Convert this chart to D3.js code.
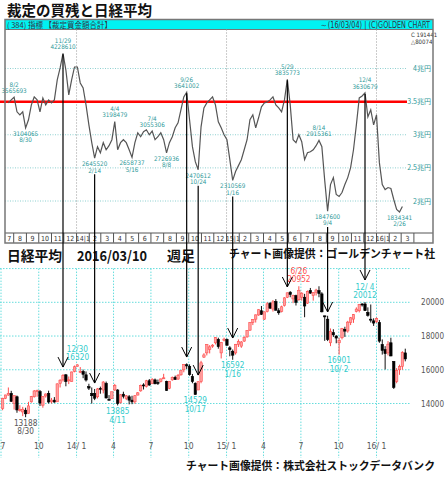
<!DOCTYPE html>
<html><head><meta charset="utf-8">
<script src="https://cdn.jsdelivr.net/npm/d3@7"></script>
<style>body{margin:0;background:#fff}svg{display:block}</style>
</head><body>
<svg id="c" width="448" height="480"></svg>
<script>
// ---------- DATA ----------
// 裁定買残 (兆円), weekly from 2013-07-19 to 2016-03-04
const arbStart = "2013-07-19";
const arbValues = [
3.481,3.526,3.566,3.346,3.301,3.346,3.104,3.226,3.451,3.571,
3.526,3.346,3.556,3.451,3.526,3.481,3.526,3.827,4.008,4.229,
3.977,3.602,3.827,4.023,4.023,3.782,3.707,3.451,3.150,2.880,
2.646,2.820,2.729,2.880,2.774,2.835,2.925,3.198,2.774,2.880,
2.925,2.880,2.774,2.659,2.880,3.030,2.970,3.045,3.075,3.000,
3.055,2.925,2.970,3.030,2.925,2.727,2.880,2.970,3.105,3.180,
3.376,3.571,3.641,3.226,2.820,2.594,2.471,3.120,3.406,3.481,
3.526,3.571,3.451,3.195,3.105,3.000,2.925,2.624,2.311,2.444,
2.534,2.624,2.774,2.925,3.226,3.301,3.105,3.256,3.421,3.481,
3.496,3.526,3.571,3.451,3.406,3.346,3.526,3.836,3.451,2.925,
2.880,3.000,2.895,2.624,2.729,2.744,2.774,2.835,2.915,2.820,
2.308,1.848,2.248,2.353,2.098,2.068,2.128,2.248,2.353,2.504,
2.774,3.150,3.556,3.586,3.631,3.271,3.376,3.150,3.301,2.579,
2.248,2.173,2.203,2.188,2.023,1.872,1.834,1.917];
const topTicks = [4, 3.5, 3, 2.5, 2];
const topTickLabels = ["4兆円","3.5兆円","3兆円","2.5兆円","2兆円"];
const topPeaks = [
 {date:"2013-08-02", lines:["8/2","3565693"]},
 {date:"2013-11-29", lines:["11/29","4228610"]},
 {date:"2014-04-04", lines:["4/4","3198479"]},
 {date:"2014-07-04", lines:["7/4","3055306"]},
 {date:"2014-09-26", lines:["9/26","3641002"]},
 {date:"2015-05-29", lines:["5/29","3835773"]},
 {date:"2015-08-14", lines:["8/14","2915361"]},
 {date:"2015-12-04", lines:["12/4","3630679"]}];
const topTroughs = [
 {date:"2013-08-30", lines:["3104065","8/30"]},
 {date:"2014-02-14", lines:["2645520","2/14"]},
 {date:"2014-05-16", lines:["2658737","5/16"]},
 {date:"2014-08-08", lines:["2726936","8/8"]},
 {date:"2014-10-24", lines:["2470612","10/24"]},
 {date:"2015-01-16", lines:["2310569","1/16"]},
 {date:"2015-09-04", lines:["1847600","9/4"]},
 {date:"2016-02-26", lines:["1834341","2/26"]}];

// 日経平均 weekly [open, high, low, close], from week ending 2013-07-05
const nikkeiStart = "2013-07-05";
const nikkeiOHLC = [
[13700,14340,13600,14309],[14300,14520,14260,14506],[14500,14950,14460,14589],[14600,14750,14100,14129],
[14000,14470,13640,14466],[14400,14470,13450,13615],[13650,13900,13520,13650],[13500,13800,13250,13660],
[13600,13750,13188,13389],[13400,14100,13400,13860],[14100,14450,14050,14404],[14400,14800,14350,14742],
[14700,14820,14400,14760],[14700,14800,13850,14024],[13900,14420,13750,14404],[14450,14600,14350,14561],
[14600,14760,14000,14088],[14100,14330,14000,14201],[14200,14380,14050,14086],[14100,15190,14100,15165],
[15200,15440,14950,15381],[15400,15740,15300,15661],[15700,15750,15020,15299],[15400,15600,15150,15403],
[15300,15890,15300,15870],[15900,16250,15850,16178],[16200,16320,16200,16291],[15900,16160,15800,15912],
[15900,16010,15500,15734],[15700,15900,15300,15391],[15000,15170,14800,14914],[14600,14950,13995,14462],
[14600,14860,14200,14313],[14400,14920,14300,14865],[14900,15000,14580,14841],[14800,15320,14600,15274],
[15200,15300,14300,14327],[14250,14500,14200,14224],[14300,14700,14270,14696],[14800,15160,14750,15063],
[14800,14850,13885,14000],[14050,14550,14000,14516],[14550,14700,14300,14429],[14300,14500,14200,14457],
[14400,14500,13950,14199],[14200,14460,13960,14097],[14100,14500,13980,14462],[14500,14680,14480,14632],
[14750,15120,14700,15077],[15100,15200,14830,15097],[15000,15400,14950,15349],[15350,15450,15050,15095],
[15200,15500,15150,15437],[15400,15480,15150,15164],[15250,15420,15100,15215],[15300,15480,15250,15457],
[15500,15760,15450,15523],[15300,15350,14750,14778],[14900,15330,14850,15318],[15400,15600,15350,15539],
[15550,15650,15400,15425],[15450,15750,15400,15668],[15700,15960,15650,15948],[16000,16330,15850,16321],
[16300,16380,16050,16229],[16200,16320,15650,15708],[15600,15750,15200,15300],[15200,15250,14529,14532],
[14800,15320,14800,15291],[15300,16530,15200,16413],[16750,16980,16700,16880],[17000,17520,16850,17490],
[17200,17460,16970,17357],[17400,17520,17300,17459],[17600,17940,17500,17920],[17800,17900,17250,17371],
[17000,17650,16670,17621],[17750,17900,17680,17818],[17800,17850,17450,17450],[17300,17400,16800,17197],
[17100,17200,16592,16864],[17000,17530,16900,17511],[17500,17800,17350,17674],[17400,17700,17300,17648],
[17700,17980,17650,17913],[17950,18350,17900,18332],[18350,18830,18300,18797],[18800,19000,18650,18971],
[19000,19280,18800,19254],[19250,19590,19200,19560],[19500,19780,19250,19286],[19000,19450,18950,19435],
[19450,20010,19400,19908],[19950,20000,19600,19653],[19600,20130,19450,20020],[20050,20190,19500,19531],
[19500,19650,19260,19379],[19450,19800,19400,19732],[19800,20300,19750,20264],[20300,20580,20250,20563],
[20600,20660,20300,20461],[20200,20450,19950,20407],[20400,20450,19810,19990],[20150,20952,20100,20706],
[20300,20600,20100,20539],[20300,20500,19115,19779],[19950,20700,19900,20650],[20700,20850,20500,20544],
[20400,20600,20100,20585],[20600,20800,20400,20724],[20700,20950,20300,20519],[20500,20600,19400,19436],
[19200,19200,17714,19136],[19000,19200,17700,17792],[17600,18450,17400,18264],[18200,18400,17950,18070],
[18000,18050,17570,17880],[17600,17900,16901,17725],[17900,18480,17800,18438],[18400,18550,17950,18291],
[18300,18900,18200,18825],[18800,19130,18650,19083],[19000,19300,18780,19265],[19450,19700,19400,19597],
[19500,19900,19400,19879],[19900,19950,19750,19883],[19900,20012,19500,19504],[19400,19700,19150,19230],
[19000,19870,18800,18986],[18900,19050,18600,18769],[18850,19100,18780,19033],[18800,18950,17600,17697],
[17500,17800,16900,17147],[17200,17400,16017,16958],[17000,17700,16850,17518],[17600,17900,16800,16819],
[16500,16500,14865,14952],[15300,16100,15200,15967],[16000,16300,15700,16188],[16200,17100,16000,17014],
[17000,17250,16500,16642]];
const nikkeiTicks = [14000, 16000, 18000, 20000];
const nikkeiGrid = [14000, 16000, 18000, 20000, 22000];
const quarterStarts = ["2013-07-01","2013-10-01","2014-01-01","2014-04-01","2014-07-01","2014-10-01",
 "2015-01-01","2015-04-01","2015-07-01","2015-10-01","2016-01-01"];
const quarterLabels = ["7","10","14/ 1","4","7","10","15/ 1","4","7","10","16/ 1"];
const nikkeiHighs = [
 {date:"2014-01-03", lines:["12/30","16320"], value:16320, color:"#33cccc"},
 {date:"2015-06-26", lines:["6/26","20952"], value:20952, color:"#ff5050"},
 {date:"2015-12-04", lines:["12/ 4","20012"], value:20012, color:"#33cccc"}];
const nikkeiLows = [
 {date:"2013-08-30", lines:["13188","8/30"], value:13188, color:"#555555"},
 {date:"2014-04-11", lines:["13885","4/11"], value:13885, color:"#33cccc"},
 {date:"2014-10-17", lines:["14529","10/17"], value:14529, color:"#33cccc"},
 {date:"2015-01-16", lines:["16592","1/16"], value:16592, color:"#33cccc"},
 {date:"2015-10-02", lines:["16901","10/ 2"], value:16901, color:"#33cccc"}];
// arrows linking top turning points to the Nikkei chart (end = Nikkei level of arrow tip)
const arrows = [
 {date:"2013-11-29", kind:"peak", end:16160},
 {date:"2014-02-14", kind:"trough", end:15211},
 {date:"2014-09-26", kind:"peak", end:16754},
 {date:"2014-10-24", kind:"trough", end:15685},
 {date:"2015-01-16", kind:"trough", end:17881},
 {date:"2015-05-29", kind:"peak", end:20908},
 {date:"2015-09-04", kind:"trough", end:19424},
 {date:"2015-12-04", kind:"peak", end:21323}];

// ---------- DRAW ----------
const svg = d3.select("#c");
const parse = d3.utcParse("%Y-%m-%d");
const fmt = d3.utcFormat("%Y-%m-%d");
const x = d3.scaleUtc().domain([parse("2013-11-29"), parse("2015-12-04")]).range([63, 365]);
const yT = d3.scaleLinear().domain([2, 4]).range([201, 68.5]);
const yN = d3.scaleLinear().domain([14000, 20000]).range([403.5, 302.3]);
const NARROW = "'Liberation Sans Narrow','DejaVu Sans Condensed','Arial Narrow',sans-serif";
const JP = "'Noto Sans CJK JP','Noto Sans CJK SC',sans-serif";

const arbData = arbValues.map((v,i)=>({date:d3.utcDay.offset(parse(arbStart), 7*i), v}));
const arbByDate = new Map(arbData.map(d=>[fmt(d.date), d.v]));

// title
svg.append("text").attr("x",7).attr("y",15.5).attr("font-family",JP).attr("font-weight","bold")
  .attr("font-size",15).attr("textLength",145).attr("lengthAdjust","spacingAndGlyphs").attr("fill","#111")
  .text("裁定の買残と日経平均");

// top frame
const L = 5, R = 433, T = 19.5, B = 243;
svg.append("rect").attr("x",L).attr("y",T).attr("width",R-L).attr("height",10).attr("fill","#00f2f2");
svg.append("line").attr("x1",L).attr("x2",R).attr("y1",T+10).attr("y2",T+10).attr("stroke","#777").attr("stroke-width",1);
svg.append("text").attr("x",7).attr("y",27.6).attr("font-family",JP).attr("font-size",8)
  .attr("fill","#334").attr("textLength",105).attr("lengthAdjust","spacingAndGlyphs")
  .text("( 384) 指標 【裁定買金額合計】");
svg.append("text").attr("x",320).attr("y",27.6).attr("font-family",NARROW).attr("font-size",8.5)
  .attr("fill","#334").attr("textLength",110).attr("lengthAdjust","spacingAndGlyphs")
  .text("～(16/03/04) | (C)GOLDEN CHART");
svg.append("text").attr("x",411).attr("y",36.5).attr("font-family",NARROW).attr("font-size",6).attr("fill","#333").text("C 191441");
svg.append("text").attr("x",411).attr("y",43.5).attr("font-family",NARROW).attr("font-size",6).attr("fill","#333").text("△80074");

const topG = svg.append("g");
// horizontal grid
topTicks.forEach((t,i)=>{
  if (t !== 3.5) topG.append("line").attr("x1",L).attr("x2",407).attr("y1",yT(t)).attr("y2",yT(t))
    .attr("stroke","#8fd0d0").attr("stroke-dasharray","1,1.5").attr("stroke-width",1);
  topG.append("text").attr("x",431).attr("y",yT(t)+2.5).attr("text-anchor","end")
    .attr("font-family",JP).attr("font-size",7).attr("fill","#2f9a9a").text(topTickLabels[i]);
});
// year dotted verticals
["2014-01-01","2015-01-01","2016-01-01"].forEach(d=>{
  topG.append("line").attr("x1",x(parse(d))).attr("x2",x(parse(d))).attr("y1",T+10).attr("y2",233)
    .attr("stroke","#999").attr("stroke-dasharray","1,2");
});
// red 3.5 line
topG.append("line").attr("x1",0).attr("x2",407).attr("y1",yT(3.5)).attr("y2",yT(3.5))
  .attr("stroke","#ff0000").attr("stroke-width",2.5);

// month row
const months = d3.utcMonth.range(parse("2013-07-01"), parse("2016-04-01"));
topG.append("line").attr("x1",L).attr("x2",R).attr("y1",233).attr("y2",233).attr("stroke","#555");
months.forEach(m=>{
  const x0 = Math.max(L, x(m)), x1 = x(d3.utcMonth.offset(m,1));
  if (x(m) > L) topG.append("line").attr("x1",x(m)).attr("x2",x(m)).attr("y1",233).attr("y2",B).attr("stroke","#555");
  const mm = m.getUTCMonth()+1;
  const lab = mm===1 ? (String(m.getUTCFullYear()).slice(2)+"|1") : String(mm);
  topG.append("text").attr("x",(x0+x1)/2).attr("y",240.8).attr("text-anchor","middle")
    .attr("font-family",NARROW).attr("font-size",7).attr("fill","#333").text(lab);
});
topG.append("line").attr("x1",x(parse("2016-04-01"))).attr("x2",x(parse("2016-04-01"))).attr("y1",233).attr("y2",B).attr("stroke","#555");
// frame
svg.append("rect").attr("x",L).attr("y",T).attr("width",R-L).attr("height",B-T)
  .attr("fill","none").attr("stroke","#777").attr("stroke-width",1.5);

// line
topG.append("path").datum(arbData).attr("fill","none").attr("stroke","#555").attr("stroke-width",1.2)
  .attr("d", d3.line().x(d=>x(d.date)).y(d=>yT(d.v)));

// top annotations
topPeaks.forEach(a=>{
  const px = x(parse(a.date)), py = yT(arbByDate.get(a.date));
  a.lines.forEach((t,k)=>topG.append("text").attr("x",px).attr("y",py-10.5+k*6.3).attr("text-anchor","middle")
    .attr("font-family",NARROW).attr("font-size",6.3).attr("fill","#2f9a9a").text(t));
});
topTroughs.forEach(a=>{
  const px = x(parse(a.date)), py = yT(arbByDate.get(a.date));
  a.lines.forEach((t,k)=>topG.append("text").attr("x",px).attr("y",py+8+k*6.3).attr("text-anchor","middle")
    .attr("font-family",NARROW).attr("font-size",6.3).attr("fill","#2f9a9a").text(t));
});

// ---------- bottom chart ----------
const bt = svg.append("g");
bt.append("text").attr("x",7).attr("y",261).attr("font-family",JP).attr("font-weight","bold").attr("font-size",14)
  .attr("textLength",55).attr("lengthAdjust","spacingAndGlyphs").attr("fill","#111").text("日経平均");
bt.append("text").attr("x",77).attr("y",261).attr("font-family",JP).attr("font-weight","bold").attr("font-size",14)
  .attr("textLength",70).attr("lengthAdjust","spacingAndGlyphs").attr("fill","#111").text("2016/03/10");
bt.append("text").attr("x",167).attr("y",261).attr("font-family",JP).attr("font-weight","bold").attr("font-size",14)
  .attr("textLength",28).attr("lengthAdjust","spacingAndGlyphs").attr("fill","#111").text("週足");
bt.append("text").attr("x",229).attr("y",258).attr("font-family",JP).attr("font-weight","bold").attr("font-size",11.5)
  .attr("textLength",206).attr("lengthAdjust","spacingAndGlyphs").attr("fill","#111").text("チャート画像提供：ゴールデンチャート社");
bt.append("text").attr("x",186).attr("y",470).attr("font-family",JP).attr("font-weight","bold").attr("font-size",11)
  .attr("textLength",249).attr("lengthAdjust","spacingAndGlyphs").attr("fill","#111").text("チャート画像提供：株式会社ストックデータバンク");

// grid
nikkeiGrid.forEach(v=>{
  bt.append("line").attr("x1",0).attr("x2",410).attr("y1",yN(v)).attr("y2",yN(v))
    .attr("stroke","#66dddd").attr("stroke-dasharray","1.5,1.5");
});
nikkeiTicks.forEach(v=>{
  bt.append("text").attr("x",444).attr("y",yN(v)+3).attr("text-anchor","end").attr("font-family",NARROW).attr("font-size",8)
    .attr("fill","#555").text(v);
});
quarterStarts.forEach((d,i)=>{
  const qx = x(parse(d));
  bt.append("line").attr("x1",Math.max(qx,1)).attr("x2",Math.max(qx,1)).attr("y1",yN(22000)).attr("y2",458)
    .attr("stroke","#66dddd").attr("stroke-dasharray","1.5,1.5");
  bt.append("text").attr("x",Math.max(qx,3)).attr("y",449).attr("text-anchor","middle")
    .attr("font-family",NARROW).attr("font-size",8.5).attr("fill","#555").text(quarterLabels[i]);
});

// candles
const candles = nikkeiOHLC.map((d,i)=>({date:d3.utcDay.offset(parse(nikkeiStart),7*i), o:d[0],h:d[1],l:d[2],c:d[3]}));
const cg = bt.append("g");
candles.forEach(d=>{
  const cx = x(d.date), up = d.c >= d.o;
  cg.append("line").attr("x1",cx).attr("x2",cx).attr("y1",yN(d.h)).attr("y2",yN(d.l))
    .attr("stroke", up ? "#ff4d4d" : "#111").attr("stroke-width",1);
  const y0 = yN(Math.max(d.o,d.c)), h = Math.max(1, Math.abs(yN(d.o)-yN(d.c)));
  cg.append("rect").attr("x",cx-1.2).attr("y",y0).attr("width",2.4).attr("height",h)
    .attr("fill", up ? "#ffa0a0" : "#000").attr("stroke", up ? "#ff4d4d" : "#000").attr("stroke-width",0.6);
});

// nikkei annotations
nikkeiHighs.forEach(a=>{
  const px = x(parse(a.date)), py = yN(a.value);
  a.lines.forEach((t,k)=>bt.append("text").attr("x",px).attr("y",py-12.5+k*8.5).attr("text-anchor","middle")
    .attr("font-family",NARROW).attr("font-size",8.2).attr("fill",a.color).text(t));
});
nikkeiLows.forEach(a=>{
  const px = x(parse(a.date)), py = yN(a.value);
  a.lines.forEach((t,k)=>bt.append("text").attr("x",px).attr("y",py+8.5+k*8.8).attr("text-anchor","middle")
    .attr("font-family",NARROW).attr("font-size",8.2).attr("fill",a.color).text(t));
});

// arrows
const ag = svg.append("g");
arrows.forEach(a=>{
  const ax = x(parse(a.date));
  const v = arbByDate.get(a.date);
  const y0 = a.kind === "peak" ? yT(v)+1 : yT(v)+16;
  const y1 = yN(a.end);
  ag.append("line").attr("x1",ax).attr("x2",ax).attr("y1",y0).attr("y2",y1).attr("stroke","#000").attr("stroke-width",1.2);
  ag.append("path").attr("d",`M${ax-5},${y1-10}L${ax},${y1}L${ax+5},${y1-10}`)
    .attr("fill","none").attr("stroke","#000").attr("stroke-width",1);
});
</script>
</body></html>
